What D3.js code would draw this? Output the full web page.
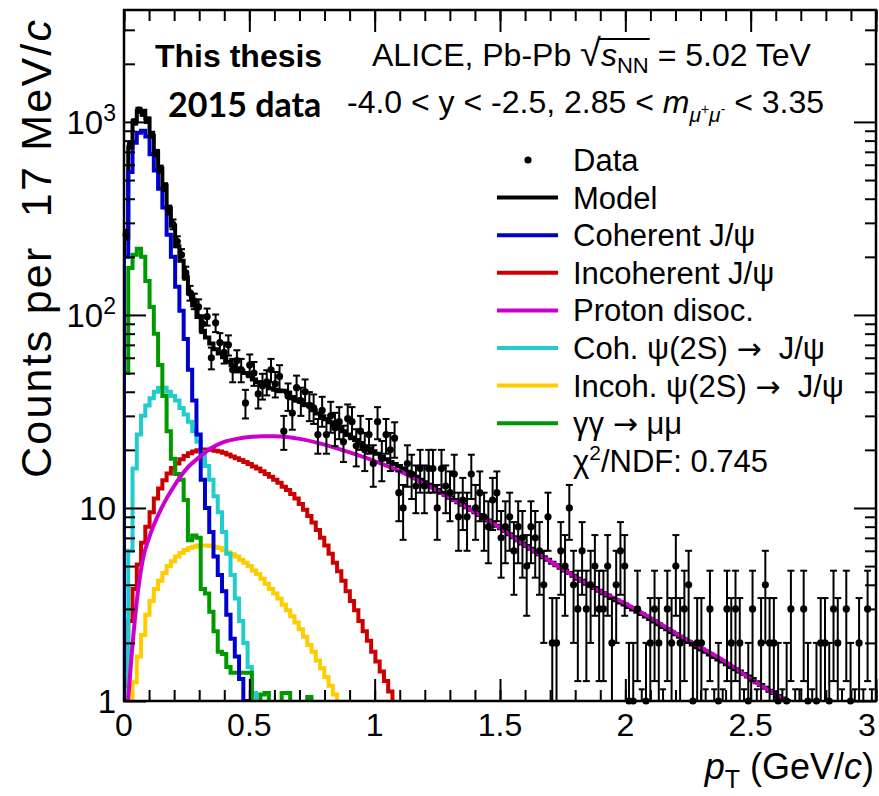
<!DOCTYPE html>
<html>
<head>
<meta charset="utf-8">
<script src="https://cdn.jsdelivr.net/npm/d3@7"></script>
<style>
  body { margin: 0; background: #fff; }
  text { font-family: "Liberation Sans", Arial, sans-serif; white-space: pre; }
</style>
</head>
<body>
<script>
// bin width of all histograms (GeV/c)
const binWidth = 0.017;

// data counts per bin, bins start at pT = 0
const dataCounts = [
  260, 760, 1000, 1150, 1110, 1020, 860, 690, 570, 460,
  350, 295, 240, 205, 165, 130, 118, 110, 90, 98,
  60, 91, 72, 64, 70, 52, 58, 52, 35, 55,
  50, 39, 43, 45, 52, 44, 48, 25, 38, 31,
  42, 36, 40, 34, 33, 24, 32, 24, 30, 26,
  28, 22, 29, 28, 21, 25, 20, 24, 17, 28,
  18, 24, 20, 23, 12, 10, 17, 15, 13, 16,
  13, 16, 16, 10, 16, 13, 12, 15, 9, 11,
  9, 15, 10, 12, 9, 8, 11, 12, 7, 8,
  9, 6, 8, 7, 5, 8, 7, 6, 4, 9,
  2, 2, 6, 5, 10, 4, 3, 6, 3, 4,
  5, 3, 3, 5, 2, 4, 6, 5, 1, 1,
  3, 0, 1, 2, 3, 2, 0, 3, 2, 5,
  2, 3, 4, 1, 2, 2, 0, 3, 0, 1,
  0, 3, 2, 3, 2, 0, 1, 3, 0, 2,
  4, 2, 2, 1, 0, 1, 3, 0, 0, 3,
  1, 0, 1, 2, 2, 1, 3, 2, 0, 3,
  1, 0, 2, 0, 3, 0
];

// fitted model (sum of templates)
const modelVals = [
  252, 736, 1009, 1135, 1144, 1041, 847, 704, 574, 469,
  357, 290, 227, 191, 157, 129, 112, 97.5, 82.8, 76.3,
  71.2, 66.5, 63.2, 60.3, 57.2, 54.9, 53.0, 51.4, 50.1, 48.9,
  46.3, 44.8, 44.3, 43.6, 41.7, 41.0, 40.3, 40.5, 39.7, 37.6,
  36.6, 35.5, 34.4, 34.3, 32.1, 30.9, 29.9, 28.8, 27.8, 26.8,
  25.9, 25.0, 24.0, 23.2, 22.5, 21.7, 20.9, 20.3, 19.7, 19.1,
  18.4, 17.9, 17.3, 16.9, 16.5, 16.0, 15.4, 14.9, 14.5, 14.0,
  13.6, 13.2, 12.8, 12.4, 12.0, 11.7, 11.3, 11.0, 10.7, 10.4,
  10.1, 9.8, 9.5, 9.2, 8.9, 8.6, 8.4, 8.1, 7.85, 7.6,
  7.3, 7.05, 6.8, 6.55, 6.35, 6.15, 5.95, 5.75, 5.55, 5.4,
  5.2, 5.05, 4.9, 4.75, 4.6, 4.45, 4.3, 4.2, 4.05, 3.95,
  3.85, 3.72, 3.62, 3.52, 3.42, 3.33, 3.24, 3.16, 3.07, 2.98,
  2.9, 2.82, 2.74, 2.66, 2.58, 2.5, 2.42, 2.35, 2.28, 2.22,
  2.15, 2.09, 2.02, 1.96, 1.9, 1.85, 1.8, 1.74, 1.69, 1.64,
  1.6, 1.55, 1.5, 1.46, 1.42, 1.38, 1.34, 1.3, 1.25, 1.21,
  1.17, 1.13, 1.1, 1.06, 1.03, 1.0, 0.97
];

const cohJpsi = [
  200, 550, 780, 880, 900, 840, 680, 560, 450, 360,
  260, 200, 140, 105, 75, 52, 36, 24, 14, 10,
  7.5, 5.6, 4.5, 3.7, 2.8, 2.1, 1.7, 1.3, 1.0, 0.8
];

const incohJpsi = [
  1.2, 2.6, 3.8, 5.1, 6.6, 8.0, 9.5, 11.2, 12.6, 13.9,
  15.1, 16.1, 17.0, 17.9, 18.6, 19.2, 19.6, 19.9, 20.1, 20.1,
  20.0, 19.8, 19.6, 19.3, 18.9, 18.5, 18.1, 17.7, 17.3, 16.9,
  16.4, 16.0, 15.5, 15.0, 14.5, 14.0, 13.5, 12.9, 12.4, 11.8,
  11.2, 10.5, 9.8, 9.1, 8.4, 7.7, 7.0, 6.4, 5.8, 5.2,
  4.7, 4.2, 3.7, 3.3, 2.95, 2.6, 2.3, 2.05, 1.8, 1.6,
  1.42, 1.27, 1.12, 0.98
];

const cohPsi2S = [
  0, 6, 16, 24, 30, 34, 37, 40, 42, 42,
  40, 38, 36, 33, 30.5, 28, 25, 22, 19.5, 16.5,
  14, 11.5, 9.5, 7.5, 5.8, 4.5, 3.4, 2.6, 2.0, 1.5,
  1.1, 0.8
];

const incohPsi2S = [
  0, 0.9, 1.25, 1.7, 2.2, 2.8, 3.3, 3.8, 4.2, 4.6,
  5.0, 5.3, 5.6, 5.85, 6.05, 6.2, 6.3, 6.4, 6.4, 6.4,
  6.35, 6.3, 6.2, 6.05, 5.9, 5.75, 5.6, 5.4, 5.2, 5.0,
  4.75, 4.55, 4.3, 4.05, 3.8, 3.6, 3.4, 3.15, 2.95, 2.75,
  2.55, 2.35, 2.15, 1.95, 1.8, 1.62, 1.48, 1.33, 1.2, 1.08,
  0.97
];

const gammaGamma = [
  50, 175, 205, 220, 200, 150, 110, 80, 55, 38,
  25, 18, 15, 14, 11, 6.8, 7.2, 7.0, 3.8, 3.6,
  2.9, 2.3, 1.8, 1.75, 1.5, 1.4, 1.4, 1.4, 1.4, 1.4,
  0, 0, 1.08, 1.1, 0, 0, 0, 1.1, 1.1, 0,
  0, 0, 0, 1.05, 0
];

// proton dissociation: smooth function, sampled
const protonPt = [0.016, 0.03, 0.05, 0.075, 0.1, 0.15, 0.2, 0.25, 0.3, 0.35, 0.4, 0.45, 0.5, 0.55,
  0.6, 0.65, 0.7, 0.8, 0.9, 1.0, 1.1, 1.2, 1.3, 1.4, 1.5, 1.6, 1.7, 1.8, 1.9, 2.0, 2.1, 2.2,
  2.3, 2.4, 2.5, 2.6, 2.65];
const protonVals = [1.0, 1.7, 3.2, 5.4, 7.0, 10.0, 13.0, 16.0, 18.3, 20.5, 22.0, 22.8, 23.3, 23.5,
  23.5, 23.3, 22.8, 21.3, 19.4, 17.5, 15.5, 13.3, 11.3, 9.5, 7.9, 6.4, 5.3, 4.4, 3.7, 3.2, 2.7, 2.25,
  1.9, 1.6, 1.3, 1.08, 0.98];

const xTicks = [0, 0.5, 1, 1.5, 2, 2.5, 3];
const xTickLabels = ["0", "0.5", "1", "1.5", "2", "2.5", "3"];
const yTicks = [1, 10, 100, 1000];
const yTickBase = ["1", "10", "10", "10"];
const yTickExp = ["", "", "2", "3"];

// legend entries: [before arrow, after arrow]
const legendLabels = [["Model"], ["Coherent J/\u03c8"], ["Incoherent J/\u03c8"], ["Proton disoc."],
  ["Coh. \u03c8(2S) ", "  J/\u03c8"], ["Incoh. \u03c8(2S) ", "  J/\u03c8"], ["\u03b3\u03b3 ", " \u03bc\u03bc"]];
const legendColors = ["#000000", "#0000cc", "#cc0000", "#cc00cc", "#22cccc", "#ffcc00", "#009900"];

// ---------------------------------------------------------------
const svg = d3.select("body").append("svg")
  .attr("width", 879)
  .attr("height", 796);

const x = d3.scaleLinear().domain([0, 3]).range([124, 876]);
const y = d3.scaleLog().domain([1, 3800]).range([701, 10]);
const floorVal = 0.3;

svg.append("clipPath").attr("id", "plot")
  .append("rect").attr("x", 124).attr("y", 10).attr("width", 752).attr("height", 691);

const plot = svg.append("g").attr("clip-path", "url(#plot)");

// histogram outline as steps
const stepLine = d3.line()
  .x(d => x(d[0]))
  .y(d => y(Math.max(d[1], floorVal)))
  .curve(d3.curveStepAfter);

function histPoints(vals) {
  const pts = [[0, floorVal]];
  vals.forEach((v, i) => pts.push([i * binWidth, v]));
  pts.push([vals.length * binWidth, vals[vals.length - 1]]);
  pts.push([vals.length * binWidth, floorVal]);
  return pts;
}

function drawHist(vals, color) {
  plot.append("path")
    .attr("d", stepLine(histPoints(vals)))
    .attr("fill", "none")
    .attr("stroke", color)
    .attr("stroke-width", 4)
    .attr("stroke-linejoin", "miter");
}

drawHist(modelVals, legendColors[0]);
drawHist(incohPsi2S, legendColors[5]);
drawHist(incohJpsi, legendColors[2]);
drawHist(cohPsi2S, legendColors[4]);
drawHist(gammaGamma, legendColors[6]);
drawHist(cohJpsi, legendColors[1]);

// proton dissociation curve
const smooth = d3.line()
  .x((d, i) => x(protonPt[i]))
  .y(d => y(d))
  .curve(d3.curveMonotoneX);
plot.append("path")
  .attr("d", smooth(protonVals))
  .attr("fill", "none")
  .attr("stroke", legendColors[3])
  .attr("stroke-width", 4);

// data points with poisson errors
const pts = dataCounts.map((n, i) => ({ pt: (i + 0.5) * binWidth, n: n }));
const bars = plot.append("g").attr("stroke", "#000").attr("stroke-width", 2);
pts.forEach(d => {
  const cx = x(d.pt);
  if (d.n === 0) {
    bars.append("line").attr("x1", cx).attr("x2", cx).attr("y1", y(floorVal)).attr("y2", y(1.15));
    bars.append("line").attr("x1", cx - 3).attr("x2", cx + 3).attr("y1", y(1.15)).attr("y2", y(1.15));
    return;
  }
  const e = Math.sqrt(d.n);
  const hi = d.n + e, lo = Math.max(d.n - e, floorVal);
  bars.append("line").attr("x1", cx).attr("x2", cx).attr("y1", y(lo)).attr("y2", y(hi));
  bars.append("line").attr("x1", cx - 3.5).attr("x2", cx + 3.5).attr("y1", y(hi)).attr("y2", y(hi));
  if (lo > 1) {
    bars.append("line").attr("x1", cx - 3.5).attr("x2", cx + 3.5).attr("y1", y(lo)).attr("y2", y(lo));
  }
});
svg.append("g").selectAll("circle")
  .data(pts.filter(d => d.n > 0))
  .enter().append("circle")
  .attr("cx", d => x(d.pt))
  .attr("cy", d => y(d.n))
  .attr("r", 3.6)
  .attr("fill", "#000");

// axes with inward ticks (ROOT style)
function styleAxis(g) {
  g.select(".domain").remove();
  g.selectAll(".tick line").attr("stroke", "#000").attr("stroke-width", 2);
  g.selectAll(".tick text").remove();
}
const minorX = d3.range(0, 3.001, 0.1);
const minorY = [];
[1, 10, 100, 1000].forEach(dec => d3.range(2, 10).forEach(k => { if (k * dec < 3800) minorY.push(k * dec); }));

svg.append("g").attr("transform", "translate(0,701)")
  .call(d3.axisBottom(x).tickValues(minorX).tickSize(-11)).call(styleAxis);
svg.append("g").attr("transform", "translate(0,701)")
  .call(d3.axisBottom(x).tickValues(xTicks).tickSize(-22)).call(styleAxis);
svg.append("g").attr("transform", "translate(0,10)")
  .call(d3.axisTop(x).tickValues(minorX).tickSize(-11)).call(styleAxis);
svg.append("g").attr("transform", "translate(0,10)")
  .call(d3.axisTop(x).tickValues(xTicks).tickSize(-22)).call(styleAxis);
svg.append("g").attr("transform", "translate(124,0)")
  .call(d3.axisLeft(y).tickValues(minorY).tickSize(-11)).call(styleAxis);
svg.append("g").attr("transform", "translate(124,0)")
  .call(d3.axisLeft(y).tickValues(yTicks).tickSize(-22)).call(styleAxis);
svg.append("g").attr("transform", "translate(876,0)")
  .call(d3.axisRight(y).tickValues(minorY).tickSize(-11)).call(styleAxis);
svg.append("g").attr("transform", "translate(876,0)")
  .call(d3.axisRight(y).tickValues(yTicks).tickSize(-22)).call(styleAxis);

svg.append("rect")
  .attr("x", 124).attr("y", 10).attr("width", 752).attr("height", 691)
  .attr("fill", "none").attr("stroke", "#000").attr("stroke-width", 2.5);

// tick labels
svg.append("g").selectAll("text")
  .data(xTicks)
  .enter().append("text")
  .attr("x", d => Math.min(x(d), 867))
  .attr("y", 736)
  .attr("text-anchor", "middle")
  .attr("font-size", 32)
  .text((d, i) => xTickLabels[i]);

yTicks.forEach((v, i) => {
  const t = svg.append("text")
    .attr("x", 116)
    .attr("y", y(v) + 12)
    .attr("text-anchor", "end")
    .attr("font-size", 33);
  t.append("tspan").text(yTickBase[i]);
  if (yTickExp[i]) {
    t.append("tspan").attr("font-size", 23).attr("dy", -13).text(yTickExp[i]);
  }
});

// axis titles
const xt = svg.append("text")
  .attr("x", 874).attr("y", 779)
  .attr("text-anchor", "end")
  .attr("font-size", 36);
xt.append("tspan").attr("font-style", "italic").text("p");
xt.append("tspan").attr("font-size", 25).attr("dy", 9).text("T");
xt.append("tspan").attr("dy", -9).text(" (GeV/");
xt.append("tspan").attr("font-style", "italic").text("c");
xt.append("tspan").text(")");

const yt = svg.append("text")
  .attr("transform", "translate(51,20) rotate(-90)")
  .attr("text-anchor", "end")
  .attr("font-size", 43)
  .attr("textLength", 458)
  .attr("lengthAdjust", "spacing");
yt.append("tspan").text("Counts per  17 MeV/");
yt.append("tspan").attr("font-style", "italic").text("c");

// header texts
svg.append("text")
  .attr("x", 155).attr("y", 67)
  .attr("font-size", 32).attr("font-weight", "bold")
  .text("This thesis");
svg.append("text")
  .attr("x", 168).attr("y", 117)
  .attr("font-size", 34).attr("font-weight", "bold")
  .style("font-family", "Lato, 'Open Sans', sans-serif")
  .text("2015 data");

const head = svg.append("text")
  .attr("x", 372).attr("y", 66)
  .attr("font-size", 32);
head.append("tspan").text("ALICE, Pb-Pb ");
head.append("tspan").attr("font-size", 38).text("\u221a");
head.append("tspan").attr("font-style", "italic").text("s");
head.append("tspan").attr("font-size", 22).attr("dy", 7).text("NN");
head.append("tspan").attr("dy", -7).text(" = 5.02 TeV");
// overline of the square root
const hn = head.node();
const rootEnd = hn.getStartPositionOfChar(13).x + hn.getSubStringLength(13, 1);
const nnEnd = hn.getStartPositionOfChar(16).x + hn.getSubStringLength(16, 1);
svg.append("line")
  .attr("x1", rootEnd - 2).attr("x2", nnEnd + 1)
  .attr("y1", 39).attr("y2", 39)
  .attr("stroke", "#000").attr("stroke-width", 2);

const kin = svg.append("text")
  .attr("x", 347).attr("y", 113)
  .attr("font-size", 32);
kin.append("tspan").text("-4.0 < y < -2.5, 2.85 < ");
kin.append("tspan").attr("font-style", "italic").text("m");
kin.append("tspan").attr("font-size", 21).attr("font-style", "italic").attr("dy", 9).text("\u03bc");
kin.append("tspan").attr("font-size", 14).attr("dy", -8).text("+");
kin.append("tspan").attr("font-size", 21).attr("font-style", "italic").attr("dy", 8).text("\u03bc");
kin.append("tspan").attr("font-size", 14).attr("dy", -8).text("-");
kin.append("tspan").attr("dy", -1).text(" < 3.35");

// legend
const legY0 = 160, legDy = 37.6;
const leg = svg.append("g");
leg.append("circle").attr("cx", 528).attr("cy", legY0).attr("r", 3.6).attr("fill", "#000");
leg.append("text").attr("x", 573).attr("y", legY0 + 11).attr("font-size", 31).text("Data");
legendLabels.forEach((lab, i) => {
  const yy = legY0 + (i + 1) * legDy;
  leg.append("line")
    .attr("x1", 497).attr("x2", 558).attr("y1", yy).attr("y2", yy)
    .attr("stroke", legendColors[i]).attr("stroke-width", 4);
  const t = leg.append("text").attr("x", 573).attr("y", yy + 11).attr("font-size", 31);
  t.append("tspan").text(lab[0]);
  if (lab.length > 1) {
    t.append("tspan").style("font-family", "'DejaVu Sans', sans-serif").attr("font-size", 30).text("\u2192");
    t.append("tspan").text(lab[1]);
  }
});
const chi = leg.append("text").attr("x", 573).attr("y", legY0 + 8 * legDy + 11).attr("font-size", 31);
chi.append("tspan").text("\u03c7");
chi.append("tspan").attr("font-size", 21).attr("dy", -12).text("2");
chi.append("tspan").attr("dy", 12).text("/NDF: 0.745");
</script>
</body>
</html>
